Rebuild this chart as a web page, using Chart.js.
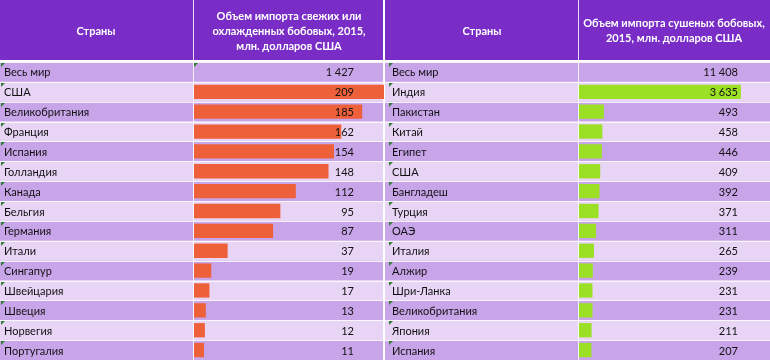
<!DOCTYPE html>
<html><head><meta charset="utf-8">
<script src="https://cdn.jsdelivr.net/npm/chart.js@4"></script>
<style>
html,body{margin:0;padding:0;background:#fff;}
#c1{position:absolute;left:0;top:0;}
#c2{position:absolute;left:384px;top:0;}
</style></head><body>
<canvas id="c1" width="384" height="360"></canvas>
<canvas id="c2" width="386" height="360"></canvas>
<script>
const worldLabel = 'Весь мир';
const countryHeader = 'Страны';
const freshHeader = ['Объем импорта свежих или', 'охлажденных бобовых, 2015,', 'млн. долларов США'];
const driedHeader = ['Объем импорта сушеных бобовых,', '2015, млн. долларов США'];
const freshWorld = 1427;
const freshCountries = ['США','Великобритания','Франция','Испания','Голландия','Канада','Бельгия','Германия','Итали','Сингапур','Швейцария','Швеция','Норвегия','Португалия'];
const freshValues = [209,185,162,154,148,112,95,87,37,19,17,13,12,11];
const driedWorld = 11408;
const driedCountries = ['Индия','Пакистан','Китай','Египет','США','Бангладеш','Турция','ОАЭ','Италия','Алжир','Шри-Ланка','Великобритания','Япония','Испания'];
const driedValues = [3635,493,458,446,409,392,371,311,265,239,231,231,211,207];

const PURPLE = '#7A2DC6', ROW_DARK = '#C8A4E9', ROW_LIGHT = '#E8D5F5';
const FONT = 'Lato, "Liberation Sans", sans-serif';

function fmt(v){ return String(v).replace(/\B(?=(\d{3})+(?!\d))/g, ' '); }

function tri(ctx, x, y){
  ctx.fillStyle = '#2E7D32';
  ctx.beginPath(); ctx.moveTo(x, y); ctx.lineTo(x+4, y); ctx.lineTo(x, y+4); ctx.closePath(); ctx.fill();
}

const tablePlugin = {
  id: 'table',
  beforeDraw(chart, args, o){
    const ctx = chart.ctx, W = chart.width, a = chart.chartArea, ys = chart.scales.y;
    const n = chart.data.labels.length, h = (a.bottom - a.top) / n;
    ctx.save();
    ctx.fillStyle = '#fff'; ctx.fillRect(0, 0, W, chart.height);
    ctx.fillStyle = PURPLE; ctx.fillRect(o.leftEdge, 0, W - o.leftEdge - o.rightEdge, 60);
    for (let i = 0; i < n; i++) {
      const yc = ys.getPixelForValue(i);
      ctx.fillStyle = i % 2 === 0 ? ROW_DARK : ROW_LIGHT;
      ctx.fillRect(o.leftEdge, yc - h/2, W - o.leftEdge - o.rightEdge, h);
      ctx.fillStyle = 'rgba(255,255,255,0.8)';
      ctx.fillRect(o.leftEdge, Math.round(yc - h/2), W - o.leftEdge - o.rightEdge, 1);
    }
    ctx.fillStyle = 'rgba(255,255,255,0.85)';
    ctx.fillRect(o.divX, 0, 1, chart.height);
    ctx.fillStyle = '#fff';
    ctx.font = 'bold 11px ' + FONT;
    ctx.textAlign = 'center'; ctx.textBaseline = 'middle';
    ctx.fillText(countryHeader, o.countryCenter, 31);
    o.header.forEach((t, k) => ctx.fillText(t, o.valueCenter, o.headerY[k]));
    ctx.fillStyle = '#111';
    ctx.font = '11px ' + FONT;
    ctx.textAlign = 'left';
    chart.data.labels.forEach((lab, i) => {
      const yc = ys.getPixelForValue(i);
      ctx.fillText(lab, o.countryX, yc + 1);
    });
    ctx.restore();
  },
  afterDatasetsDraw(chart, args, o){
    const ctx = chart.ctx, a = chart.chartArea, ys = chart.scales.y;
    const n = chart.data.labels.length, h = (a.bottom - a.top) / n;
    ctx.save();
    ctx.font = '11px ' + FONT;
    ctx.textAlign = 'right'; ctx.textBaseline = 'middle';
    chart.data.labels.forEach((lab, i) => {
      const yc = ys.getPixelForValue(i);
      const v = i === 0 ? o.world : chart.data.datasets[0].data[i];
      ctx.fillStyle = '#111';
      ctx.fillText(fmt(v), o.valueRight, yc + 1);
      tri(ctx, o.countryX - 3, Math.round(yc - h/2) + 1);
    });
    if (o.worldTri) tri(ctx, o.divX + 1, Math.round(ys.getPixelForValue(0) - h/2) + 1);
    ctx.restore();
  }
};

function makeChart(id, countries, values, world, color, scaleMin, scaleMax, opts){
  const labels = [worldLabel].concat(countries);
  const data = [null].concat(values);
  return new Chart(document.getElementById(id), {
    type: 'bar',
    data: { labels, datasets: [{ data, backgroundColor: color, borderWidth: 0,
      barPercentage: 0.72, categoryPercentage: 1, base: scaleMin }] },
    options: {
      indexAxis: 'y', responsive: false, animation: false,
      layout: { padding: { left: opts.barLeft, top: 62, right: opts.barRightPad, bottom: 0 } },
      scales: {
        x: { display: false, min: scaleMin, max: scaleMax },
        y: { display: false }
      },
      plugins: { legend: { display: false }, tooltip: { enabled: false },
        table: Object.assign({ world }, opts) }
    },
    plugins: [tablePlugin]
  });
}

makeChart('c1', freshCountries, freshValues, freshWorld, '#EE6039', 0, 209, {
  barLeft: 194, barRightPad: 0, leftEdge: 0, rightEdge: 1, divX: 193,
  countryCenter: 96, valueCenter: 289, header: freshHeader, headerY: [16, 31.5, 46.5],
  countryX: 4, valueRight: 354, worldTri: true
});
makeChart('c2', driedCountries, driedValues, driedWorld, '#9BE024', -78, 4303, {
  barLeft: 195, barRightPad: 0, leftEdge: 1, rightEdge: 0, divX: 194,
  countryCenter: 98, valueCenter: 290, header: driedHeader, headerY: [23, 38],
  countryX: 8, valueRight: 354, worldTri: false
});
</script>
</body></html>
